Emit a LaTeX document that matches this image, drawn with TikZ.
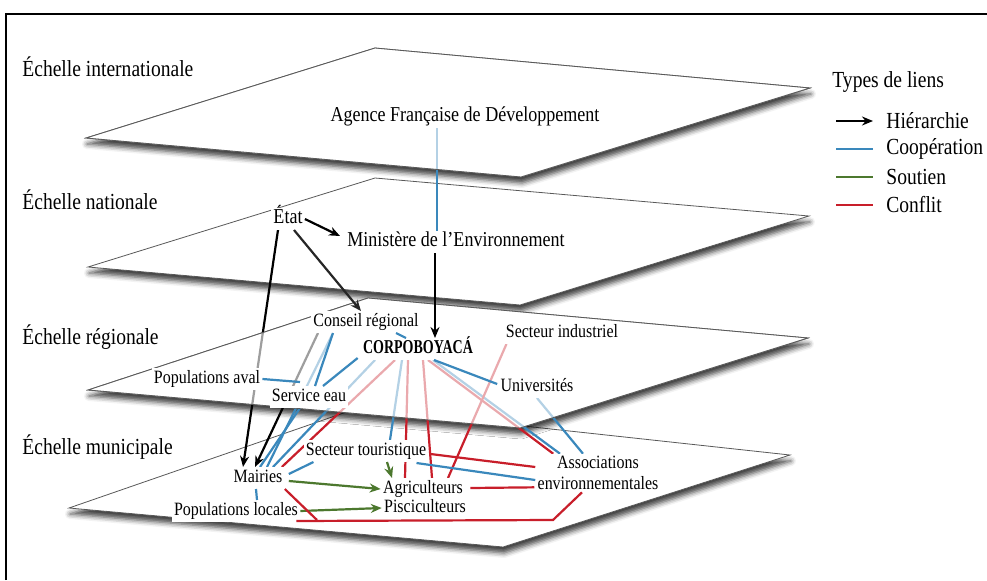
\documentclass[tikz,border=0pt]{standalone}
\usepackage{fontspec}
\setmainfont{Liberation Serif}[FakeStretch=0.85]
\usetikzlibrary{positioning, calc, arrows.meta, shadows.blur}

\definecolor{CoopBlue}{RGB}{58,136,188}
\definecolor{ConfRed}{RGB}{200,30,42}
\definecolor{SoutGreen}{RGB}{76,120,46}

\pgfdeclarelayer{planes}
\pgfdeclarelayer{under}
\pgfdeclarelayer{veil}
\pgfsetlayers{planes,under,veil,main}

\tikzset{Hier/.style={draw=black, line width=1.1pt, -{Stealth[length=5.5pt,width=4.5pt]}}}
\tikzset{Coop/.style={draw=CoopBlue, line width=1.1pt}}
\tikzset{Sout/.style={draw=SoutGreen, line width=1.1pt, -{Stealth[length=5.5pt,width=4.5pt]}}}
\tikzset{Conf/.style={draw=ConfRed, line width=1.1pt}}
\tikzset{Act/.style={fill=white, inner sep=1pt, text height=6.6pt, text depth=2pt,
    font=\fontsize{9.4}{10.6}\selectfont}}
\tikzset{Lvl/.style={anchor=west, inner sep=0pt, font=\fontsize{11.5}{13}\selectfont}}
\tikzset{Plane/.style={draw=black!65, line width=0.4pt, fill=white,
    blur shadow={shadow xshift=0.5pt, shadow yshift=-3pt, shadow blur radius=2.5pt, shadow opacity=75}}}
\tikzset{Veil/.style={draw=black!65, line width=0.4pt, fill=white, fill opacity=0.62}}

\newcommand{\PlaneCorners}[5]{
    \coordinate (#1l) at (#2);
    \coordinate (#1t) at (#3);
    \coordinate (#1r) at (#4);
    \coordinate (#1b) at (#5);
}

\begin{document}
\begin{tikzpicture}[x=0.5pt, y=-0.5pt]
    \useasboundingbox (0,0) rectangle (987,580);

    %% Frame
    \draw[line width=0.7pt] (6,580) -- (6,14) -- (987,14);

    %% Planes
    \PlaneCorners{pi}{86,138}{375,48}{810,88}{521,177}
    \PlaneCorners{pn}{88,267}{375,178}{809,216}{520,305}
    \PlaneCorners{pr}{88,390}{368,298}{808,338}{520,428}
    \PlaneCorners{pm}{69,508}{358,408}{790,455}{503,547}

    \begin{pgfonlayer}{planes}
      \draw[Plane] (pnl) -- (pnt) -- (pnr) -- (pnb) -- cycle;
      \draw[Plane] (pml) -- (pmt) -- (pmr) -- (pmb) -- cycle;
      \draw[Plane] (prl) -- (prt) -- (prr) -- (prb) -- cycle;
      \draw[Plane] (pil) -- (pit) -- (pir) -- (pib) -- cycle;
    \end{pgfonlayer}
    \begin{pgfonlayer}{veil}
      \draw[Veil] (prl) -- (prt) -- (prr) -- (prb) -- cycle;
      \draw[Veil] (pil) -- (pit) -- (pir) -- (pib) -- cycle;
    \end{pgfonlayer}

    %% Scale labels
    \node[Lvl] (lint) at (22,67) {Échelle internationale};
    \node[Lvl] (lnat) at (22,200) {Échelle nationale};
    \node[Lvl] (lreg) at (22,337) {Échelle régionale};
    \node[Lvl] (lmun) at (22,447) {Échelle municipale};

    %% Actors
    \node[Act, font=\fontsize{10.6}{12}\selectfont] (afd) at (465,117) {Agence Française de Développement};
    \node[Act, font=\fontsize{10.6}{12}\selectfont] (etat) at (288,219) {État};
    \node[Act, font=\fontsize{10.6}{12}\selectfont] (min) at (456,242) {Ministère de l'Environnement};
    \node[Act] (conseil) at (366,322) {Conseil régional};
    \node[Act] (corpo) at (418,349) {\scalebox{0.84}[1]{\fontsize{9.8}{10}\selectfont\bfseries CORPOBOYACÁ}};
    \node[Act] (secind) at (562,333) {Secteur industriel};
    \node[Act] (popaval) at (207,379) {Populations aval};
    \node[Act] (service) at (309,397) {Service eau};
    \node[Act] (univ) at (537,387) {Universités};
    \node[Act] (tour) at (366,451) {Secteur touristique};
    \node[Act] (mairies) at (258,478) {Mairies};
    \node[Act] (agri) at (423,489) {Agriculteurs};
    \node[Act] (pisci) at (425,508) {Pisciculteurs};
    \node[Act] (poploc) at (236,511) {Populations locales};
    \node[Act, align=center, text height=, text depth=] (asso) at (598,473) {Associations\\environnementales};

    \coordinate (mjoin) at (317,520);
    \coordinate (bend) at (553,520);

    %% Links passing under the planes
    \begin{pgfonlayer}{under}
      \draw[Coop] ($(afd.south)+(-28,0)$) -- ($(min.north)+(-19,0)$);
      \draw[Hier] ($(etat.south)+(-10,0)$) -- ($(mairies.north)+(-15,0)$);
      \draw[Hier] ($(conseil.south)+(-48,0)$) -- ($(mairies.north)+(-3,0)$);
      \draw[Coop] ($(service.south)+(-9,0)$) -- ($(mairies.north)+(2,0)$);
      \draw[Coop] ($(conseil.south)+(-33,0)$) -- ($(mairies.north)+(9,0)$);
      \draw[Coop] ($(corpo.south)+(-43,0)$) -- ($(mairies.north)+(15,0)$);
      \draw[Conf] ($(corpo.south)+(-23,0)$) -- ($(mairies.north east)+(-3,0)$);
      \draw[Coop] ($(corpo.south)+(-16,0)$) -- ($(tour.north)+(24,0)$);
      \draw[Conf] ($(corpo.south)+(-10,0)$) -- ($(agri.north)+(-18,0)$);
      \draw[Conf] ($(corpo.south)+(5,0)$) -- ($(agri.north)+(9,0)$);
      \draw[Conf] ($(corpo.south)+(10,0)$) -- ($(asso.north west)+(18,0)$);
      \draw[Coop] ($(corpo.south)+(15,0)$) -- ($(asso.north)+(-38,0)$);
      \draw[Coop] (univ.south) -- ($(asso.north)+(-15,0)$);
      \draw[Conf] ($(secind.south west)+(3,0)$) -- ($(agri.north)+(25,0)$);
    \end{pgfonlayer}

    %% Links on the planes
    \draw[Hier] (etat.east) -- ($(min.west)+(-5,-6)$);
    \draw[Hier, draw=black!85] ($(etat.south)+(6,0)$) -- ($(conseil.north)+(-5,0)$);
    \draw[Hier] ($(min.south)+(-21,0)$) -- ($(corpo.north)+(17,0)$);

    \draw[Coop] ($(conseil.south)+(30,0)$) -- ($(corpo.north)+(-12,0)$);
    \draw[Coop] ($(conseil.south)+(-33,0)$) -- ($(service.north)+(6,0)$);
    \draw[Coop] ($(corpo.south west)+(-3,-2)$) -- ($(service.north)+(14,0)$);
    \draw[Coop] (popaval.east) -- ($(service.north)+(-9,-4)$);
    \draw[Coop] ($(corpo.south)+(16,0)$) -- ($(univ.west)+(-1,-3)$);

    \draw[Coop] ($(mairies.east)+(4,-4)$) -- ($(tour.south west)+(10,0)$);
    \draw[Coop] ($(mairies.south)+(-2,0)$) -- ($(poploc.north)+(21,0)$);
    \draw[Coop] ($(tour.south east)+(-12,1)$) -- ($(asso.west)+(0,7)$);
    \draw[Sout] ($(mairies.east)+(4,3)$) -- (agri.west);
    \draw[Sout] (poploc.east) -- (pisci.west);
    \draw[Sout] ($(tour.south)+(21,0)$) -- ($(agri.north)+(-31,0)$);
    \draw[Conf] ($(tour.east)+(2,3)$) -- ($(asso.west)+(0,-6)$);
    \draw[Conf] ($(agri.east)+(5,-1)$) -- ($(asso.south west)+(-1,-5)$);
    \draw[Conf] (mairies.south east) -- (mjoin);
    \draw[Conf] ($(poploc.south east)+(-4,-1)$) -- (bend) -- ($(asso.south)+(-16,0)$);

    %% Legend
    \node[Lvl] (types) at (832,82) {Types de liens};
    \node[Lvl] (lhier) at (886,121) {Hiérarchie};
    \node[Lvl] (lcoop) at (886,149) {Coopération};
    \node[Lvl] (lsout) at (886,177) {Soutien};
    \node[Lvl] (lconf) at (886,205) {Conflit};
    \draw[Hier] ([xshift=-25pt]lhier.west) -- ([xshift=-6.5pt]lhier.west);
    \draw[Coop] ([xshift=-25pt]lcoop.west) -- ([xshift=-6.5pt]lcoop.west);
    \draw[Sout, -] ([xshift=-25pt]lsout.west) -- ([xshift=-6.5pt]lsout.west);
    \draw[Conf] ([xshift=-25pt]lconf.west) -- ([xshift=-6.5pt]lconf.west);

\end{tikzpicture}
\end{document}
